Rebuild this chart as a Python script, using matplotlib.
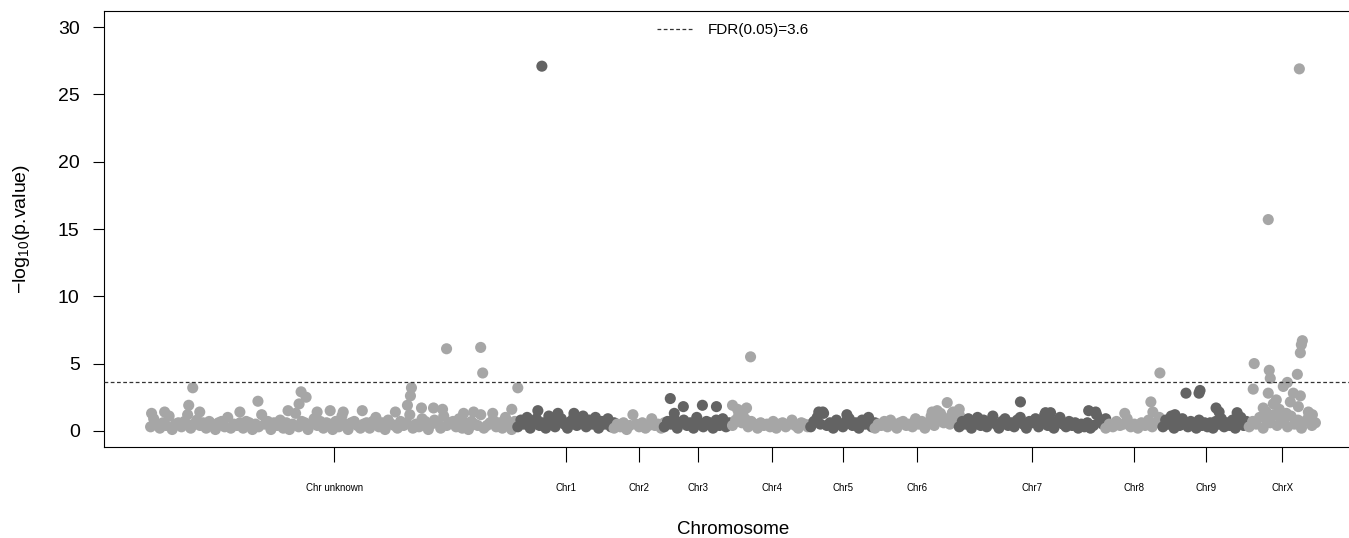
import numpy as np
import matplotlib
matplotlib.use("Agg")
import matplotlib.pyplot as plt
from matplotlib.lines import Line2D

plt.rcParams["font.family"] = ["Liberation Sans", "DejaVu Sans"]
plt.rcParams["mathtext.fontset"] = "custom"
plt.rcParams["mathtext.rm"] = "Liberation Sans"

# chromosome order and lengths (plot units)
chroms = ["Chr unknown", "Chr1", "Chr2", "Chr3", "Chr4", "Chr5",
          "Chr6", "Chr7", "Chr8", "Chr9", "ChrX"]
lengths = [366, 96, 50, 68, 78, 64, 84, 146, 57, 86, 66]

# background -log10(p) values, evenly spread along each chromosome
base_unknown = [0.3, 0.9, 0.5, 0.2, 0.6, 0.4, 1.1, 0.1, 0.5, 0.6,
                0.3, 0.7, 1.2, 0.2, 0.5, 0.8, 0.4, 0.6, 0.2, 0.7,
                0.5, 0.1, 0.6, 0.7, 0.3, 1.0, 0.2, 0.5, 0.4, 0.6,
                0.2, 0.7, 0.6, 0.1, 0.5, 0.3, 1.2, 0.5, 0.7, 0.1,
                0.6, 0.4, 0.8, 0.2, 0.6, 0.1, 0.5, 1.3, 0.3, 0.7,
                0.6, 0.1, 0.5, 0.9, 0.4, 0.7, 0.2, 0.6, 0.5, 0.1,
                0.7, 0.3, 1.1, 0.5, 0.1, 0.6, 0.7, 0.4, 0.2, 0.5,
                0.6, 0.2, 0.7, 1.0, 0.3, 0.6, 0.1, 0.8, 0.5, 0.4,
                0.2, 0.7, 0.4, 0.6, 1.2, 0.2, 0.5, 0.3, 0.9, 0.7,
                0.1, 0.5, 0.8, 0.6, 0.2, 1.1, 0.4, 0.6, 0.7, 0.3,
                0.9, 0.2, 0.6, 0.1, 0.7, 0.5, 0.4, 1.2, 0.2, 0.4,
                0.6, 0.8, 0.3, 0.6, 0.2, 1.0, 0.5, 0.1, 0.7, 0.6]
base_chr1 = [0.3, 0.8, 0.5, 1.0, 0.2, 0.7, 0.9, 0.4, 0.6, 0.2, 1.1, 0.6,
             0.3, 0.8, 0.9, 0.5, 0.2, 0.7, 1.0, 0.4, 0.6, 1.1, 0.3, 0.8,
             0.5, 1.0, 0.2, 0.7, 0.5, 0.9, 0.3, 0.6]
base_chr2 = [0.2, 0.5, 0.3, 0.6, 0.1, 0.4, 1.2, 0.5, 0.3, 0.6, 0.2, 0.4,
             0.9, 0.4, 0.5, 0.2, 0.6]
base_chr3 = [0.3, 0.7, 0.5, 0.9, 0.2, 0.6, 0.8, 0.4, 0.6, 0.2, 1.0, 0.5,
             0.3, 0.7, 0.6, 0.2, 0.8, 0.4, 0.9, 0.3, 0.6, 0.5]
base_chr4 = [0.4, 0.8, 1.2, 0.6, 0.9, 0.3, 0.7, 0.5, 0.2, 0.6, 0.4, 0.5,
             0.3, 0.7, 0.2, 0.5, 0.6, 0.3, 0.5, 0.8, 0.4, 0.2, 0.6, 0.5,
             0.3, 0.5]
base_chr5 = [0.3, 0.7, 1.0, 0.5, 1.3, 0.4, 0.6, 0.2, 0.8, 0.5, 0.3, 0.7,
             0.9, 0.4, 0.6, 0.2, 0.8, 0.5, 1.0, 0.3, 0.6]
base_chr6 = [0.2, 0.5, 0.4, 0.7, 0.3, 0.8, 0.5, 0.2, 0.6, 0.7, 0.4, 0.5,
             0.3, 0.9, 0.5, 0.7, 0.2, 0.6, 1.1, 0.4, 0.8, 1.3, 0.6, 0.9,
             0.5, 1.4, 0.7, 1.2]
base_chr7 = [0.3, 0.7, 0.5, 0.9, 0.2, 0.6, 1.0, 0.4, 0.8, 0.3, 0.6, 1.1,
             0.5, 0.2, 0.7, 0.9, 0.4, 0.6, 0.3, 0.8, 1.0, 0.5, 0.2, 0.7,
             0.6, 0.9, 0.3, 0.6, 1.2, 0.4, 0.8, 0.2, 0.6, 1.0, 0.5, 0.3,
             0.7, 0.4, 0.6, 0.2, 0.5, 0.3, 0.6, 0.2, 0.4, 1.2, 0.7, 0.5, 0.9]
base_chr8 = [0.2, 0.5, 0.3, 0.7, 0.4, 0.5, 0.9, 0.3, 0.5, 0.2, 0.6, 0.4,
             0.8, 0.3, 0.6, 1.0, 0.5]
base_chr9 = [0.3, 0.8, 0.5, 1.1, 0.2, 0.6, 0.4, 0.9, 0.6, 0.3, 0.7, 0.5,
             0.2, 0.8, 0.4, 0.6, 0.3, 0.6, 0.2, 0.7, 0.5, 0.9, 0.3, 0.6,
             0.4, 0.8, 0.2, 0.6, 1.0, 0.4, 0.7, 0.5]
base_chrX = [0.3, 0.7, 0.5, 1.0, 0.2, 0.8, 0.6, 1.2, 0.4, 0.9, 0.6, 0.3,
             1.1, 0.5, 0.8, 0.2, 0.7, 1.0, 0.4, 0.6]
base_values = [base_unknown, base_chr1, base_chr2, base_chr3, base_chr4,
               base_chr5, base_chr6, base_chr7, base_chr8, base_chr9,
               base_chrX]

# notable SNPs: (chromosome index, position within chromosome, -log10 p)
hits = [
    (0, 1, 1.3), (0, 14, 1.4), (0, 38, 1.9), (0, 42, 3.2), (0, 49, 1.4),
    (0, 89, 1.4), (0, 107, 2.2), (0, 137, 1.5), (0, 148, 2.0), (0, 150, 2.9),
    (0, 155, 2.5), (0, 166, 1.4), (0, 179, 1.5), (0, 192, 1.4), (0, 211, 1.5),
    (0, 244, 1.4), (0, 256, 1.9), (0, 259, 2.6), (0, 260, 3.2), (0, 270, 1.7),
    (0, 282, 1.7), (0, 291, 1.6), (0, 295, 6.1), (0, 312, 1.3), (0, 322, 1.4),
    (0, 329, 6.2), (0, 331, 4.3), (0, 341, 1.3), (0, 360, 1.6), (0, 366, 3.2),
    (1, 20, 1.5), (1, 24, 27.1), (1, 40, 1.3), (1, 56, 1.3),
    (3, 6, 2.4), (3, 10, 1.3), (3, 19, 1.8), (3, 38, 1.9), (3, 52, 1.8),
    (4, 0, 1.9), (4, 5, 1.6), (4, 11, 1.5), (4, 14, 1.7), (4, 18, 5.5),
    (5, 8, 1.4), (5, 12, 1.4), (5, 36, 1.2),
    (6, 57, 1.4), (6, 62, 1.5), (6, 72, 2.1), (6, 77, 1.3), (6, 84, 1.6),
    (7, 61, 2.15), (7, 86, 1.35), (7, 91, 1.35), (7, 129, 1.5), (7, 136, 1.4),
    (8, 19, 1.3), (8, 45, 2.15), (8, 47, 1.4), (8, 54, 4.3),
    (9, 12, 1.2), (9, 23, 2.8), (9, 36, 2.8), (9, 37, 3.0), (9, 53, 1.7),
    (9, 56, 1.4), (9, 74, 1.35),
    (10, 4, 3.1), (10, 5, 5.0), (10, 14, 1.7), (10, 17, 1.4), (10, 19, 2.8),
    (10, 19, 15.7), (10, 20, 4.5), (10, 21, 3.9), (10, 24, 2.0), (10, 27, 2.3),
    (10, 30, 1.6), (10, 34, 3.3), (10, 37, 1.3), (10, 38, 3.6), (10, 41, 2.15),
    (10, 44, 2.8), (10, 48, 4.2), (10, 49, 1.8), (10, 50, 26.9), (10, 51, 2.6),
    (10, 51, 5.8), (10, 52, 6.4), (10, 53, 6.7), (10, 59, 1.4), (10, 63, 1.2),
]

fdr = 3.6
light = "#a6a6a6"
dark = "#636363"

fig = plt.figure(figsize=(13.49, 5.38), dpi=100)
ax = fig.add_axes([104 / 1349, 91 / 538, 1258 / 1349, 436 / 538])

offsets = np.concatenate([[0], np.cumsum(lengths)[:-1]])
total = sum(lengths)
ticks = []
for i, name in enumerate(chroms):
    col = light if i % 2 == 0 else dark
    vals = np.array(base_values[i])
    pos = np.linspace(0, lengths[i], len(vals))
    hp = np.array([h[1] for h in hits if h[0] == i], dtype=float)
    hv = np.array([h[2] for h in hits if h[0] == i], dtype=float)
    x = np.concatenate([pos, hp]) + offsets[i]
    y = np.concatenate([vals, hv])
    ax.scatter(x, y, s=64, color=col, edgecolors="none", zorder=2)
    ticks.append(offsets[i] + lengths[i] / 2)

ax.axhline(fdr, color="#333333", lw=0.9, ls=(0, (3, 2)), zorder=3)

pad = 0.04 * total
ax.set_xlim(-pad, total + pad)
ax.set_ylim(-1.2, 31.2)
ax.set_yticks([0, 5, 10, 15, 20, 25, 30])
ax.set_xticks(ticks)
ax.set_xticklabels(chroms, fontsize=7, family=["Liberation Sans Narrow", "Liberation Sans"])
ax.tick_params(axis="y", labelsize=14, length=8, width=0.8, pad=9.5)
ax.tick_params(axis="x", length=11, width=0.8, pad=15)
for sp in ["left", "bottom", "top"]:
    ax.spines[sp].set_linewidth(0.8)
ax.spines["right"].set_visible(False)

ax.set_xlabel("Chromosome", fontsize=13.5, labelpad=20)
ax.set_ylabel("\u2212log$_{10}$(p.value)", fontsize=14, labelpad=19)

handle = Line2D([], [], color="#333333", lw=0.9, ls=(0, (3, 2)))
ax.legend([handle], ["FDR(0.05)=%.1f" % fdr], loc="upper center",
          frameon=False, fontsize=11, handlelength=2.4, handletextpad=0.9,
          borderaxespad=0.4)

fig.savefig("out.png", dpi=100)
